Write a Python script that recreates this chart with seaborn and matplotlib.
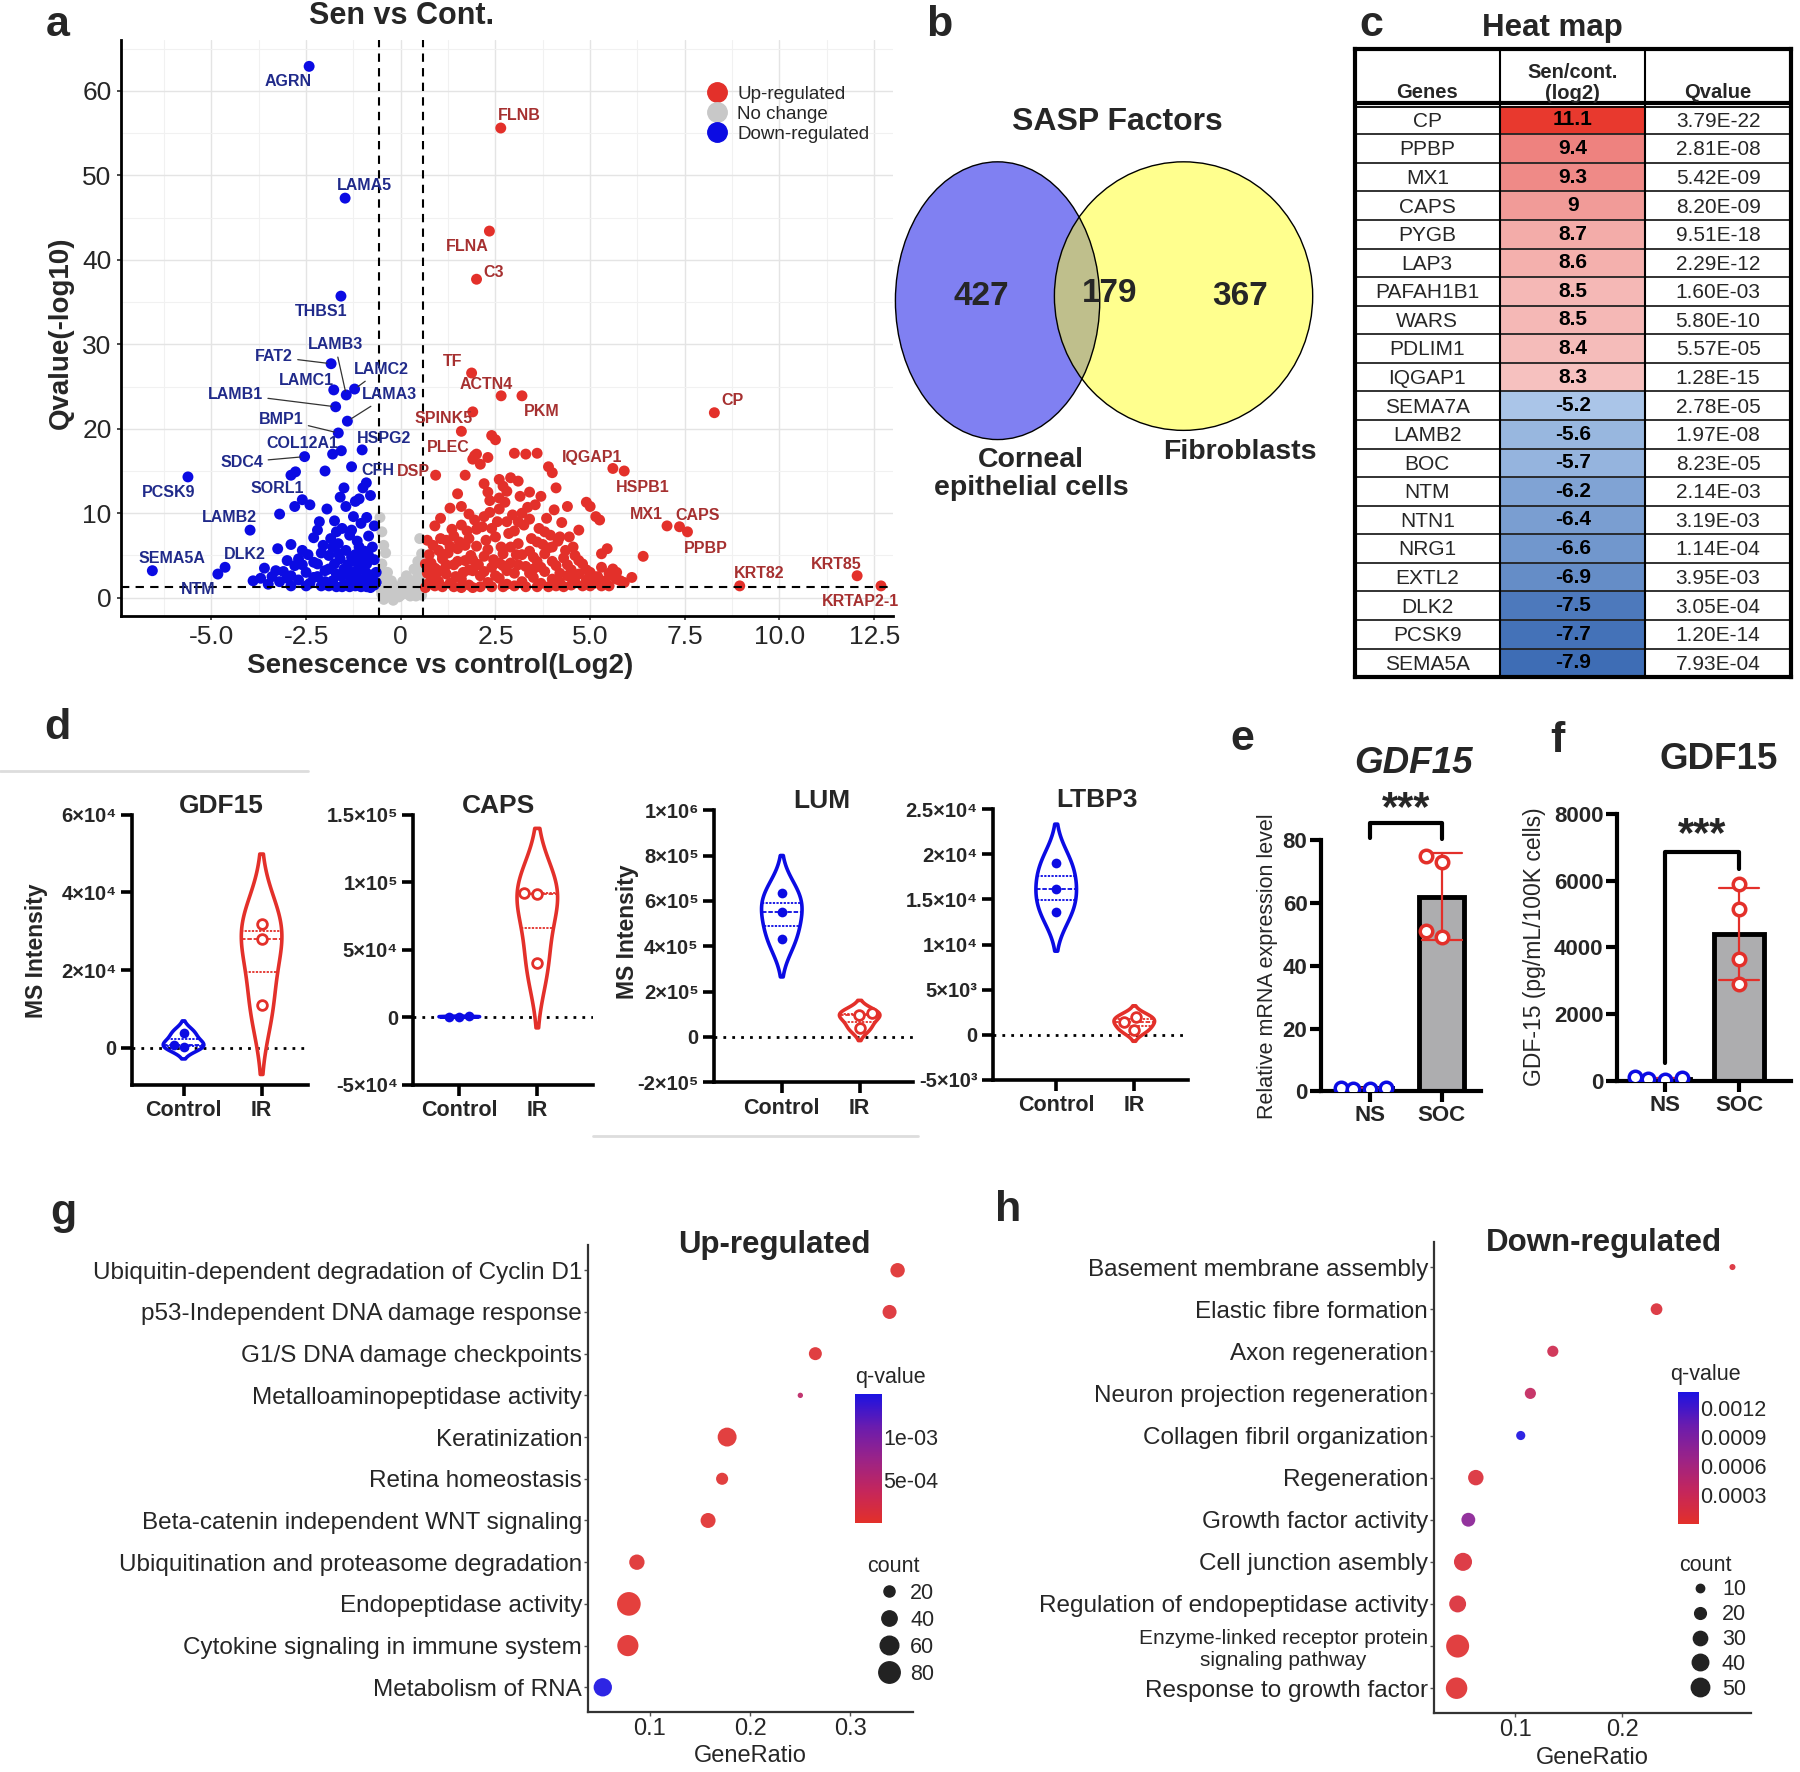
import matplotlib
matplotlib.use("Agg")
import matplotlib.pyplot as plt
import numpy as np
import pandas as pd
import seaborn as sns
from matplotlib.colors import LinearSegmentedColormap, Normalize
from matplotlib.patches import Ellipse
from matplotlib.lines import Line2D

# ---------------- data ----------------
# a: volcano (log2 fold change, -log10 q)
up_pts = [
    (0.7, 1.6), (0.8, 2.4), (0.9, 3.5), (1.0, 1.9), (1.1, 4.6), (1.2, 2.8), (1.3, 1.7), (1.4, 3.9), (1.5, 5.8), (1.6, 2.2),
    (1.7, 4.4), (1.8, 1.5), (1.9, 3.2), (2.0, 6.1), (2.1, 2.6), (2.2, 4.9), (2.3, 1.8), (2.4, 3.6), (2.5, 7.2), (2.6, 2.3),
    (2.7, 5.2), (2.8, 1.6), (2.9, 4.1), (3.0, 2.9), (3.1, 6.4), (3.2, 1.9), (3.3, 3.7), (3.4, 5.5), (3.5, 2.4), (3.6, 4.3),
    (3.7, 1.7), (3.8, 3.1), (3.9, 5.9), (4.0, 2.2), (4.1, 3.8), (4.2, 1.8), (4.3, 4.7), (4.4, 2.6), (4.5, 3.3), (4.6, 1.9),
    (4.7, 2.8), (4.8, 4.0), (4.9, 2.1), (5.0, 3.0), (5.1, 1.7), (5.2, 2.5), (5.3, 3.6), (5.4, 2.0), (5.5, 2.9), (5.6, 3.4),
    (5.7, 2.2), (5.9, 1.8), (6.1, 2.4), (6.4, 4.9), (0.75, 5.1), (0.85, 6.2), (0.95, 2.9), (1.05, 7.0), (1.15, 3.3), (1.25, 5.3),
    (1.35, 8.1), (1.45, 2.5), (1.55, 6.6), (1.65, 3.0), (1.75, 7.9), (1.85, 5.0), (1.95, 9.2), (2.05, 3.9), (2.15, 8.4), (2.25, 6.8),
    (2.35, 10.1), (2.45, 4.5), (2.55, 9.0), (2.65, 6.0), (2.75, 11.3), (2.85, 7.6), (2.95, 9.8), (3.05, 5.1), (3.15, 12.0), (3.25, 8.6),
    (3.35, 10.7), (3.45, 7.0), (3.55, 11.0), (3.65, 8.2), (3.75, 6.3), (3.85, 9.4), (3.95, 7.4), (4.05, 10.4), (4.15, 6.7), (4.25, 8.9),
    (4.35, 5.6), (4.45, 7.2), (4.55, 6.0), (4.7, 8.0), (4.9, 11.3), (5.0, 10.8), (5.15, 9.6), (5.25, 9.2), (5.45, 5.8), (5.6, 2.6),
    (1.5, 12.3), (1.7, 14.5), (1.9, 16.4), (2.0, 17.0), (2.1, 15.8), (2.2, 13.5), (2.3, 16.6), (2.4, 19.2), (2.5, 18.7), (2.6, 14.0),
    (2.7, 13.2), (2.8, 12.6), (2.9, 14.2), (3.0, 17.1), (3.1, 13.8), (3.3, 17.0), (3.6, 17.1), (3.9, 15.5), (4.0, 14.8), (4.1, 13.0),
    (3.4, 12.5), (3.7, 12.0), (2.35, 11.5), (1.8, 9.9), (1.3, 10.6), (1.05, 9.4), (0.9, 8.5), (1.9, 22.0), (0.65, 4.0), (0.7, 6.8),
    (0.65, 1.2), (0.7, 2.9), (0.8, 4.1), (0.9, 1.4), (1.0, 5.6), (1.1, 1.3), (1.2, 3.9), (1.3, 6.1), (1.4, 1.3), (1.5, 4.3),
    (1.6, 1.2), (1.7, 6.2), (1.8, 3.3), (1.9, 1.2), (2.0, 4.0), (2.1, 1.3), (2.2, 3.1), (2.3, 5.7), (2.4, 1.3), (2.5, 2.6),
    (2.6, 4.1), (2.7, 1.3), (2.8, 3.2), (2.9, 6.0), (3.0, 1.4), (3.1, 3.9), (3.2, 5.1), (3.3, 1.3), (3.4, 2.9), (3.5, 4.8),
    (3.6, 1.3), (3.7, 3.6), (3.8, 5.2), (3.9, 1.3), (4.0, 4.3), (4.1, 1.4), (4.2, 2.9), (4.3, 1.3), (4.4, 3.9), (4.5, 1.5),
    (4.6, 2.6), (4.7, 4.4), (4.8, 1.4), (4.9, 3.3), (5.0, 1.4), (5.1, 2.5), (5.3, 1.4), (5.5, 1.4), (5.7, 3.0), (5.8, 2.0),
    (1.0, 3.2), (1.2, 6.8), (1.4, 7.3), (1.6, 8.6), (1.8, 7.0), (2.0, 8.1), (2.2, 9.6), (2.4, 8.2), (2.6, 10.5), (2.8, 9.0),
    (3.0, 7.9), (3.2, 10.0), (3.4, 9.3), (3.6, 6.6), (3.8, 7.8), (4.0, 6.0), (4.2, 7.2), (1.1, 5.0), (1.9, 4.5), (2.7, 3.8),
    (3.5, 3.4), (4.6, 5.0), (0.75, 3.7), (0.85, 1.9), (2.3, 12.5), (2.6, 11.8), (1.6, 10.8), (3.1, 9.0), (4.4, 10.8), (5.3, 5.2),
]
down_pts = [
    (-0.7, 1.5), (-0.8, 2.7), (-0.9, 4.0), (-1.0, 1.8), (-1.1, 3.3), (-1.2, 5.1), (-1.3, 2.2), (-1.4, 3.9), (-1.5, 1.6), (-1.6, 4.6),
    (-1.7, 2.8), (-1.8, 6.0), (-1.9, 3.4), (-2.0, 1.9), (-2.1, 5.3), (-2.2, 2.5), (-2.3, 4.2), (-2.4, 1.7), (-2.5, 3.0), (-2.6, 5.6),
    (-2.7, 2.1), (-2.8, 3.8), (-2.9, 2.6), (-3.0, 4.4), (-3.1, 3.1), (-3.2, 1.9), (-3.4, 2.5), (-3.6, 3.5), (-3.7, 2.3), (-3.9, 2.0),
    (-0.65, 3.0), (-0.75, 6.0), (-0.85, 7.3), (-0.95, 5.5), (-1.05, 8.8), (-1.15, 6.7), (-1.25, 9.6), (-1.35, 7.4), (-1.45, 10.8), (-1.55, 8.2),
    (-1.65, 6.4), (-1.75, 9.1), (-1.85, 7.0), (-1.95, 10.5), (-2.05, 6.2), (-2.15, 9.0), (-2.3, 7.1), (-2.45, 5.1), (-2.6, 11.6), (-2.8, 10.8),
    (-2.9, 6.3), (-3.2, 9.9), (-3.25, 5.8), (-2.4, 11.0), (-1.1, 11.7), (-1.0, 13.0), (-1.5, 13.0), (-1.3, 15.5), (-2.0, 15.0), (-2.9, 14.5),
    (-1.8, 17.0), (-0.8, 12.1), (-0.7, 8.5), (-1.2, 11.4), (-1.6, 11.9), (-3.5, 1.6), (-0.9, 1.3), (-1.9, 1.4),
    (-0.65, 1.8), (-0.7, 4.5), (-0.8, 1.2), (-0.85, 5.0), (-0.9, 2.5), (-1.0, 4.7), (-1.05, 1.3), (-1.1, 2.2), (-1.15, 4.1), (-1.2, 1.4),
    (-1.25, 3.0), (-1.3, 4.8), (-1.35, 1.3), (-1.4, 2.7), (-1.45, 5.6), (-1.5, 3.4), (-1.55, 1.3), (-1.6, 2.6), (-1.65, 5.2), (-1.7, 1.3),
    (-1.75, 4.0), (-1.8, 2.0), (-1.9, 5.0), (-2.0, 3.2), (-2.1, 1.4), (-2.2, 4.0), (-2.3, 2.4), (-2.5, 1.4), (-2.6, 3.9), (-2.7, 4.6),
    (-2.9, 1.4), (-3.0, 2.3), (-3.3, 3.2), (-0.75, 2.2), (-0.95, 3.2), (-1.1, 6.0), (-1.3, 8.0), (-0.9, 9.5), (-1.7, 7.8), (-2.2, 8.0),
]
nochange_pts = [
    (-0.5, 0.4), (-0.4, 1.0), (-0.3, 0.6), (-0.2, 1.5), (-0.1, 0.3), (0.0, 0.8), (0.1, 0.5), (0.2, 1.2), (0.3, 0.4), (0.4, 0.9),
    (0.5, 1.8), (-0.45, 2.2), (-0.35, 3.0), (-0.25, 2.0), (-0.15, 1.1), (0.05, 1.9), (0.15, 2.6), (0.35, 3.4), (0.45, 2.8), (0.55, 5.2),
    (0.5, 7.0), (-0.5, 4.0), (-0.4, 5.3), (-0.55, 9.5), (-0.5, 7.8), (0.25, 0.2), (-0.05, 0.1), (0.55, 0.3), (-0.3, 0.2), (0.45, 4.3),
    (-0.52, 0.9), (-0.45, -0.2), (-0.35, 1.6), (-0.2, -0.3), (0.0, 0.3), (0.1, 1.3), (0.2, 0.6), (0.3, 2.0), (0.4, 0.2), (0.5, 0.6),
    (-0.5, 2.9), (-0.45, 6.2), (0.52, 3.8), (0.5, 2.4), (0.4, 1.5),
]
up_genes = [
    ("FLNB", 2.64, 55.6), ("FLNA", 2.34, 43.4), ("C3", 2.0, 37.7), ("TF", 1.87, 26.6), ("ACTN4", 2.65, 23.9),
    ("PKM", 3.2, 23.9), ("SPINK5", 1.6, 19.7), ("PLEC", 1.95, 16.8), ("DSP", 0.92, 14.5), ("IQGAP1", 5.6, 15.3),
    ("HSPB1", 5.9, 15.0), ("CP", 8.28, 21.9), ("MX1", 7.03, 8.5), ("CAPS", 7.36, 8.4), ("PPBP", 7.57, 7.8),
    ("KRT82", 8.95, 1.4), ("KRT85", 12.05, 2.6), ("KRTAP2-1", 12.68, 1.4),
]
down_genes = [
    ("AGRN", -2.42, 62.9), ("LAMA5", -1.47, 47.3), ("THBS1", -1.58, 35.7), ("FAT2", -1.84, 27.7), ("LAMB3", -1.44, 24.0),
    ("LAMC1", -1.77, 24.6), ("LAMC2", -1.22, 24.7), ("LAMB1", -1.72, 22.6), ("LAMA3", -1.41, 20.9), ("BMP1", -1.65, 19.5),
    ("COL12A1", -1.57, 17.4), ("HSPG2", -1.02, 17.5), ("SDC4", -2.54, 16.7), ("CFH", -0.91, 13.6), ("SORL1", -2.78, 14.9),
    ("PCSK9", -5.62, 14.3), ("LAMB2", -3.98, 8.0), ("SEMA5A", -6.56, 3.2), ("DLK2", -4.64, 3.6), ("NTM", -4.83, 2.8),
]

# b: venn counts
venn_counts = [427, 179, 367]
venn_names = ["Corneal\nepithelial cells", "Fibroblasts"]

# c: heat map table
heat_genes = ["CP", "PPBP", "MX1", "CAPS", "PYGB", "LAP3", "PAFAH1B1", "WARS", "PDLIM1", "IQGAP1",
              "SEMA7A", "LAMB2", "BOC", "NTM", "NTN1", "NRG1", "EXTL2", "DLK2", "PCSK9", "SEMA5A"]
heat_log2 = [11.1, 9.4, 9.3, 9, 8.7, 8.6, 8.5, 8.5, 8.4, 8.3,
             -5.2, -5.6, -5.7, -6.2, -6.4, -6.6, -6.9, -7.5, -7.7, -7.9]
heat_q = ["3.79E-22", "2.81E-08", "5.42E-09", "8.20E-09", "9.51E-18", "2.29E-12", "1.60E-03", "5.80E-10", "5.57E-05", "1.28E-15",
          "2.78E-05", "1.97E-08", "8.23E-05", "2.14E-03", "3.19E-03", "1.14E-04", "3.95E-03", "3.05E-04", "1.20E-14", "7.93E-04"]

# d: MS intensity (Control, IR)
gdf15_ctrl, gdf15_ir = [3800, 800, 200], [32000, 28000, 11000]
caps_ctrl, caps_ir = [100, 300, 500], [92000, 91500, 40000]
lum_ctrl, lum_ir = [635000, 550000, 430000], [105000, 95000, 40000]
ltbp3_ctrl, ltbp3_ir = [19000, 16200, 13600], [2000, 1400, 500]

# e, f: GDF15
mrna_ns, mrna_soc = [0.8, 1.0, 1.1, 0.9], [73, 75, 49, 51]
elisa_ns, elisa_soc = [60, 110, 30, 80], [5900, 5150, 3650, 2900]

# g, h: enrichment
up_terms = ["Ubiquitin-dependent degradation of Cyclin D1", "p53-Independent DNA damage response",
            "G1/S DNA damage checkpoints", "Metalloaminopeptidase activity", "Keratinization",
            "Retina homeostasis", "Beta-catenin independent WNT signaling",
            "Ubiquitination and proteasome degradation", "Endopeptidase activity",
            "Cytokine signaling in immune system", "Metabolism of RNA"]
up_ratio = [0.347, 0.339, 0.265, 0.250, 0.177, 0.172, 0.158, 0.087, 0.079, 0.078, 0.053]
up_count = [35, 33, 28, 3, 62, 24, 38, 40, 98, 78, 58]
up_q = [5e-5, 8e-5, 6e-5, 4.5e-4, 4e-5, 5e-5, 4e-5, 5e-5, 2e-5, 3e-5, 1.5e-3]

down_terms = ["Basement membrane assembly", "Elastic fibre formation", "Axon regeneration",
              "Neuron projection regeneration", "Collagen fibril organization", "Regeneration",
              "Growth factor activity", "Cell junction asembly", "Regulation of endopeptidase activity",
              "Enzyme-linked receptor protein\nsignaling pathway", "Response to growth factor"]
down_ratio = [0.303, 0.232, 0.135, 0.114, 0.105, 0.063, 0.056, 0.051, 0.046, 0.046, 0.045]
down_count = [5, 20, 18, 18, 12, 35, 28, 48, 42, 78, 68]
down_q = [1e-4, 1e-4, 2.5e-4, 3.5e-4, 1.36e-3, 1e-4, 8e-4, 1e-4, 1e-4, 5e-5, 5e-5]

# ---------------- style ----------------
sns.set_theme(style="white")
plt.rcParams["font.family"] = ["Liberation Sans", "DejaVu Sans"]
NARROW = ["Liberation Sans Narrow", "Liberation Sans", "DejaVu Sans"]
RED, BLUE, GREY = "#E3302A", "#0B0BE3", "#C8C8C8"
q_cmap = LinearSegmentedColormap.from_list("q", ["#E3302A", "#C4265C", "#9A2388", "#6A1CAE", "#1C12E2"])

W, H = 1568, 1544  # layout grid of the reference thumbnail


def box(x0, y0, x1, y1):
    return [x0 / W, 1 - y1 / H, (x1 - x0) / W, (y1 - y0) / H]


def fxy(x, y):
    return x / W, 1 - y / H


fig = plt.figure(figsize=(18, 17.72), dpi=100)
fig.patch.set_facecolor("white")

for letter, (x, y) in {"a": (50, 22), "b": (818, 22), "c": (1195, 22), "d": (50, 634),
                       "e": (1082, 644), "f": (1357, 646), "g": (55, 1057), "h": (878, 1054)}.items():
    fig.text(*fxy(x, y), letter, fontsize=31, weight="bold", ha="center", va="center")

# ---------------- a: volcano ----------------
axa = fig.add_axes(box(105, 35, 778, 537))
rows = []
for grp, pts in (("No change", nochange_pts), ("Down-regulated", down_pts), ("Up-regulated", up_pts)):
    rows += [(grp, x, y) for x, y in pts]
rows += [("Up-regulated", x, y) for _, x, y in up_genes]
rows += [("Down-regulated", x, y) for _, x, y in down_genes]
volc = pd.DataFrame(rows, columns=["group", "log2fc", "qlog"])
sns.scatterplot(data=volc, x="log2fc", y="qlog", hue="group",
                palette={"Up-regulated": RED, "No change": GREY, "Down-regulated": BLUE},
                s=62, linewidth=0, legend=False, ax=axa, zorder=3)

lab_off = {
    "AGRN": (-15, -11), "LAMA5": (14, 9), "THBS1": (-14, -11), "FAT2": (-41, 5), "LAMB3": (-8, 36),
    "LAMC1": (-20, 7), "LAMC2": (19, 14), "LAMB1": (-72, 9), "LAMA3": (30, 19), "BMP1": (-41, 10),
    "COL12A1": (-28, 5), "HSPG2": (16, 8), "SDC4": (-45, -4), "CFH": (8, 9), "SORL1": (-13, -12),
    "PCSK9": (-14, -11), "LAMB2": (-15, 9), "SEMA5A": (14, 9), "DLK2": (14, 9), "NTM": (-14, -11),
    "FLNB": (13, 9), "FLNA": (-16, -11), "C3": (12, 5), "TF": (-14, 8), "ACTN4": (-11, 8),
    "PKM": (14, -11), "SPINK5": (-13, 9), "PLEC": (-19, 6), "DSP": (-16, 3), "IQGAP1": (-15, 8),
    "HSPB1": (13, -12), "CP": (13, 9), "MX1": (-15, 8), "CAPS": (13, 8), "PPBP": (13, -12),
    "KRT82": (14, 9), "KRT85": (-15, 8), "KRTAP2-1": (-15, -11),
}
leaders = {"FAT2", "LAMB3", "LAMC2", "LAMB1", "LAMA3", "BMP1", "SDC4"}
for genes, col in ((up_genes, "#A63030"), (down_genes, "#202A8A")):
    for name, x, y in genes:
        arrow = dict(arrowstyle="-", color="#333333", lw=0.9, shrinkA=1, shrinkB=3) if name in leaders else None
        axa.annotate(name, (x, y), xytext=lab_off[name], textcoords="offset points", ha="center", va="center",
                     fontsize=11.5, weight="bold", color=col, arrowprops=arrow, zorder=5)

for xv in (-0.585, 0.585):
    axa.axvline(xv, ls=(0, (4, 3)), color="black", lw=1.5, zorder=4)
axa.axhline(1.3, ls=(0, (4, 3)), color="black", lw=1.5, zorder=4)
axa.set_xlim(-7.4, 13.0)
axa.set_ylim(-2.2, 66)
axa.set_xticks([-5, -2.5, 0, 2.5, 5, 7.5, 10, 12.5])
axa.set_xticklabels(["-5.0", "-2.5", "0", "2.5", "5.0", "7.5", "10.0", "12.5"])
axa.set_yticks([0, 10, 20, 30, 40, 50, 60])
axa.set_xticks(np.arange(-6.25, 13, 2.5), minor=True)
axa.set_yticks(np.arange(5, 66, 10), minor=True)
axa.grid(True, which="major", color="#E4E4E4", lw=1)
axa.grid(True, which="minor", color="#F1F1F1", lw=0.8)
axa.set_axisbelow(True)
axa.tick_params(labelsize=19, length=3, color="#333333", left=True, bottom=True)
for s in ("top", "right"):
    axa.spines[s].set_visible(False)
for s in ("left", "bottom"):
    axa.spines[s].set_color("black")
    axa.spines[s].set_linewidth(2)
axa.set_xlabel("")
axa.set_ylabel("")
fig.text(*fxy(383, 580), "Senescence vs control(Log2)", fontsize=20, weight="bold", ha="center", va="center")
fig.text(*fxy(53, 290), "Qvalue(-log10)", fontsize=20, weight="bold", ha="center", va="center", rotation=90)
fig.text(*fxy(350, 14), "Sen vs Cont.", fontsize=22, weight="bold", ha="center", va="center")
handles = [Line2D([], [], marker="o", ls="", color=c, markersize=14) for c in (RED, GREY, BLUE)]
axa.legend(handles, ["Up-regulated", "No change", "Down-regulated"], loc="upper left",
           bbox_to_anchor=fxy(602, 68), bbox_transform=fig.transFigure, frameon=False,
           fontsize=13.5, handletextpad=0.05, labelspacing=0.15, borderaxespad=0)

# ---------------- b: venn ----------------
axb = fig.add_axes(box(760, 130, 1170, 450))
axb.set_xlim(760, 1170)
axb.set_ylim(450, 130)
axb.axis("off")
left_e = Ellipse((869, 262), 178, 242, fc="#8080F2", ec="none")
right_e = Ellipse((1031, 258), 225, 234, fc="#FFFF8E", ec="none")
axb.add_patch(left_e)
axb.add_patch(right_e)
inter = Ellipse((869, 262), 178, 242, fc="#BFBF8C", ec="none")
axb.add_patch(inter)
inter.set_clip_path(right_e)
for e in (Ellipse((869, 262), 178, 242), Ellipse((1031, 258), 225, 234)):
    e.set_fill(False)
    e.set_edgecolor("black")
    e.set_linewidth(1)
    axb.add_patch(e)
for (x, y), n in zip([(855, 258), (967, 256), (1080, 258)], venn_counts):
    axb.text(x, y, str(n), fontsize=24, weight="bold", ha="center", va="center")
fig.text(*fxy(973, 106), "SASP Factors", fontsize=23, weight="bold", ha="center", va="center")
fig.text(*fxy(898, 413), venn_names[0], fontsize=20.5, weight="bold", ha="center", va="center", linespacing=1.1)
fig.text(*fxy(1080, 394), venn_names[1], fontsize=20.5, weight="bold", ha="center", va="center")

# ---------------- c: heat map table ----------------
axc = fig.add_axes(box(1180, 43, 1560, 590))
nrow = len(heat_genes)
mat = np.full((nrow, 3), np.nan)
mat[:, 1] = heat_log2
annot = np.full((nrow, 3), "", dtype=object)
annot[:, 1] = [f"{v:g}" for v in heat_log2]
lo, hi = min(heat_log2), max(heat_log2)
pos = lambda v: (v - lo) / (hi - lo)
heat_cmap = LinearSegmentedColormap.from_list("heat", [
    (0, "#3E6DB5"), (pos(-5.2), "#ABC6E8"), (pos(0), "#FFFFFF"),
    (pos(8.3), "#F6C3C1"), (pos(9.4), "#EE8582"), (1, "#E8392E")])
sns.heatmap(mat, ax=axc, cmap=heat_cmap, vmin=lo, vmax=hi, annot=annot, fmt="", cbar=False,
            xticklabels=False, yticklabels=False, annot_kws=dict(weight="bold", size=15, color="black"))
axc.set_ylim(nrow, -1.97)
axc.set_xlim(0, 3)
for i in range(nrow):
    axc.text(0.5, i + 0.55, heat_genes[i], ha="center", va="center", fontsize=15)
    axc.text(2.5, i + 0.55, heat_q[i], ha="center", va="center", fontsize=15)
axc.text(0.5, -0.12, "Genes", ha="center", va="bottom", fontsize=14.5, weight="bold")
axc.text(1.5, -0.1, "Sen/cont.\n(log2)", ha="center", va="bottom", fontsize=14.5, weight="bold", linespacing=1.1)
axc.text(2.5, -0.12, "Qvalue", ha="center", va="bottom", fontsize=14.5, weight="bold")
for i in range(1, nrow):
    axc.axhline(i, color="#222222", lw=1.3)
axc.axhline(-0.1, color="black", lw=3)
axc.axhline(0.05, color="black", lw=1.3)
for xv in (1, 2):
    axc.axvline(xv, color="black", lw=1.5)
for s in axc.spines.values():
    s.set_visible(True)
    s.set_color("black")
    s.set_linewidth(3)
fig.text(*fxy(1352, 24), "Heat map", fontsize=22.5, weight="bold", ha="center", va="center")

# ---------------- d: violins ----------------
fig.add_artist(Line2D([0, 268 / W], [1 - 672 / H] * 2, color="#DDDDDD", lw=2))
fig.add_artist(Line2D([517 / W, 800 / W], [1 - 990 / H] * 2, color="#DDDDDD", lw=2))


def violin_panel(rect, ctrl, ir, title, ylim, xlim, ticks, tlabels, title_xy):
    ax = fig.add_axes(box(*rect))
    df = pd.DataFrame({"group": ["Control"] * len(ctrl) + ["IR"] * len(ir), "value": ctrl + ir})
    order = ["Control", "IR"]
    ax.axhline(0, ls=(0, (1, 2.2)), color="black", lw=2, zorder=0)
    sns.violinplot(data=df, x="group", y="value", hue="group", order=order, hue_order=order,
                   palette={"Control": BLUE, "IR": RED}, fill=False, inner="quart",
                   inner_kws=dict(linewidth=1.3), linewidth=2.6, width=0.52, density_norm="width",
                   legend=False, ax=ax)
    sns.swarmplot(data=df[df.group == "Control"], x="group", y="value", order=order,
                  color=BLUE, size=7, ax=ax, zorder=4)
    sns.swarmplot(data=df[df.group == "IR"], x="group", y="value", order=order,
                  color="white", edgecolor=RED, linewidth=2, size=7, ax=ax, zorder=4)
    ax.set_xlim(*xlim)
    ax.set_ylim(*ylim)
    ax.set_yticks(ticks)
    ax.set_yticklabels(tlabels, fontweight="bold", fontsize=14.5)
    ax.set_xticks([0, 1])
    ax.set_xticklabels(order, fontweight="bold", fontsize=15.5)
    ax.set_xlabel("")
    ax.set_ylabel("")
    for s in ("top", "right"):
        ax.spines[s].set_visible(False)
    for s in ("left", "bottom"):
        ax.spines[s].set_color("black")
        ax.spines[s].set_linewidth(2.6)
    ax.tick_params(axis="both", length=8, width=2.6, color="black", left=True, bottom=True, pad=3)
    fig.text(*fxy(*title_xy), title, fontsize=19, weight="bold", ha="center", va="center")
    return ax


violin_panel((115, 710, 268, 945), gdf15_ctrl, gdf15_ir, "GDF15", (-9.5e3, 6e4), (-0.66, 1.59),
             [0, 2e4, 4e4, 6e4], ["0", "2×10⁴", "4×10⁴", "6×10⁴"], (193, 702))
violin_panel((360, 710, 517, 945), caps_ctrl, caps_ir, "CAPS", (-5e4, 1.5e5), (-0.59, 1.72),
             [-5e4, 0, 5e4, 1e5, 1.5e5], ["-5×10⁴", "0", "5×10⁴", "1×10⁵", "1.5×10⁵"], (434, 702))
violin_panel((622, 706, 795, 943), lum_ctrl, lum_ir, "LUM", (-2e5, 1e6), (-0.87, 1.68),
             [-2e5, 0, 2e5, 4e5, 6e5, 8e5, 1e6],
             ["-2×10⁵", "0", "2×10⁵", "4×10⁵", "6×10⁵", "8×10⁵", "1×10⁶"], (716, 698))
violin_panel((865, 705, 1035, 941), ltbp3_ctrl, ltbp3_ir, "LTBP3", (-5e3, 2.5e4), (-0.81, 1.69),
             [-5e3, 0, 5e3, 1e4, 1.5e4, 2e4, 2.5e4],
             ["-5×10³", "0", "5×10³", "1×10⁴", "1.5×10⁴", "2×10⁴", "2.5×10⁴"], (956, 697))
fig.text(*fxy(32, 828), "MS Intensity", fontsize=16.5, weight="bold", ha="center", va="center", rotation=90)
fig.text(*fxy(547, 812), "MS Intensity", fontsize=16.5, weight="bold", ha="center", va="center", rotation=90)


# ---------------- e, f: bars ----------------
def bar_panel(rect, ns, soc, ylim, xlim, ticks, ylabel, ylabel_xy, ylabel_size, bracket, star_y, width):
    ax = fig.add_axes(box(*rect))
    df = pd.DataFrame({"group": ["NS"] * len(ns) + ["SOC"] * len(soc), "value": ns + soc})
    order = ["NS", "SOC"]
    sns.barplot(data=df, x="group", y="value", order=order, errorbar="sd", capsize=0.55,
                err_kws={"color": RED, "linewidth": 1.6}, color="#ADADAF", saturation=1,
                edgecolor="black", linewidth=3.5, width=width, ax=ax)
    sns.swarmplot(data=df[df.group == "NS"], x="group", y="value", order=order, color="white",
                  edgecolor=BLUE, linewidth=2.5, size=9, ax=ax, zorder=5)
    sns.swarmplot(data=df[df.group == "SOC"], x="group", y="value", order=order, color="white",
                  edgecolor=RED, linewidth=2.5, size=9, ax=ax, zorder=5)
    ax.plot([0, 0, 1, 1], bracket, color="black", lw=3, clip_on=False)
    ax.text(0.5, star_y, "***", ha="center", va="center", fontsize=30, weight="bold")
    ax.set_xlim(*xlim)
    ax.set_ylim(*ylim)
    ax.set_yticks(ticks)
    ax.set_yticklabels([str(t) for t in ticks], fontweight="bold", fontsize=16)
    ax.set_xticks([0, 1])
    ax.set_xticklabels(order, fontweight="bold", fontsize=16)
    ax.set_xlabel("")
    ax.set_ylabel("")
    for s in ("top", "right"):
        ax.spines[s].set_visible(False)
    for s in ("left", "bottom"):
        ax.spines[s].set_color("black")
        ax.spines[s].set_linewidth(3)
    ax.tick_params(axis="both", length=8, width=3, color="black", left=True, bottom=True, pad=2)
    fig.text(*fxy(*ylabel_xy), ylabel, fontsize=ylabel_size, ha="center", va="center", rotation=90)
    return ax


bar_panel((1151, 732, 1290, 951), mrna_ns, mrna_soc, (0, 80), (-0.67, 1.54), [0, 20, 40, 60, 80],
          "Relative mRNA expression level", (1104, 842), 15.5, [80.7, 85.5, 85.5, 80.5], 90, 0.62)
bar_panel((1409, 709, 1560, 942), elisa_ns, elisa_soc, (0, 8000), (-0.64, 1.7), [0, 2000, 4000, 6000, 8000],
          "GDF-15 (pg/mL/100K cells)", (1337, 825), 16.5, [550, 6840, 6840, 6360], 7350, 0.67)
fig.text(*fxy(1231, 665), "GDF15", fontsize=26.5, weight="bold", style="italic", ha="center", va="center")
fig.text(*fxy(1497, 662), "GDF15", fontsize=26.5, weight="bold", ha="center", va="center")


# ---------------- g, h: dot plots ----------------
def dot_panel(rect, terms, ratio, count, q, qmax, snorm, sizes, xticks, xlim, title, title_xy,
              cbar_rect, cticks, clabels, qtitle_xy, leg_xy, leg_counts, leg_space):
    ax = fig.add_axes(box(*rect))
    df = pd.DataFrame({"term": terms, "ratio": ratio, "count": count, "q": q})
    sns.scatterplot(data=df, x="ratio", y="term", hue="q", palette=q_cmap, hue_norm=(0, qmax),
                    size="count", sizes=sizes, size_norm=snorm, linewidth=0, alpha=0.92,
                    legend=False, ax=ax)
    n = len(terms)
    ax.set_yticks(range(n))
    ax.set_yticklabels(terms, fontsize=17.5, family=NARROW)
    for t in ax.get_yticklabels():
        if "\n" in t.get_text():
            t.set_fontsize(15)
            t.set_multialignment("center")
    ax.set_ylim(n - 0.4, -0.6)
    ax.set_xlim(*xlim)
    ax.set_xticks(xticks)
    ax.set_xticklabels([f"{v:.1f}" for v in xticks], fontsize=17, family=NARROW)
    ax.set_xlabel("GeneRatio", fontsize=17, family=NARROW)
    ax.set_ylabel("")
    for s in ("top", "right"):
        ax.spines[s].set_visible(False)
    for s in ("left", "bottom"):
        ax.spines[s].set_color("#333333")
        ax.spines[s].set_linewidth(1.6)
    ax.tick_params(axis="both", length=3, width=1, color="#555555", left=True, bottom=True, pad=1)
    fig.text(*fxy(*title_xy), title, fontsize=22.5, weight="bold", ha="center", va="center", family=NARROW)

    cax = fig.add_axes(box(*cbar_rect))
    sm = plt.cm.ScalarMappable(norm=Normalize(0, qmax), cmap=q_cmap)
    cb = fig.colorbar(sm, cax=cax)
    cb.outline.set_visible(False)
    cb.set_ticks(cticks)
    cb.set_ticklabels(clabels)
    cax.tick_params(direction="in", color="white", length=5, width=1.5, labelsize=15.5, pad=1)
    for t in cax.get_yticklabels():
        t.set_family(NARROW)
    fig.text(*fxy(*qtitle_xy), "q-value", fontsize=15.5, ha="left", va="center", family=NARROW)

    lo_c, hi_c = snorm
    handles = [Line2D([], [], marker="o", ls="", color="#222222",
                      markersize=np.sqrt(sizes[0] + (c - lo_c) / (hi_c - lo_c) * (sizes[1] - sizes[0])))
               for c in leg_counts]
    ax.legend(handles, [str(c) for c in leg_counts], title="count", loc="upper left",
              bbox_to_anchor=fxy(*leg_xy), bbox_transform=fig.transFigure, frameon=False,
              handletextpad=0.0, labelspacing=leg_space, borderaxespad=0, alignment="left",
              prop={"family": NARROW, "size": 15.5}, title_fontproperties={"family": NARROW, "size": 15.5})
    return ax


dot_panel((512, 1085, 795, 1492), up_terms, up_ratio, up_count, up_q, 1.5e-3, (3, 98), (15, 290),
          [0.1, 0.2, 0.3], (0.038, 0.362), "Up-regulated", (675, 1085),
          (745, 1215, 768, 1327), [5e-4, 1e-3], ["5e-04", "1e-03"], (745, 1200), (748, 1348),
          [20, 40, 60, 80], 0.28)
dot_panel((1249, 1082, 1525, 1493), down_terms, down_ratio, down_count, down_q, 1.37e-3, (3, 80), (12, 281),
          [0.1, 0.2], (0.0237, 0.32), "Down-regulated", (1397, 1083),
          (1462, 1213, 1480, 1328), [3e-4, 6e-4, 9e-4, 1.2e-3], ["0.0003", "0.0006", "0.0009", "0.0012"],
          (1455, 1198), (1455, 1347), [10, 20, 30, 40, 50], 0.18)

fig.savefig("out.png", dpi=100, facecolor="white")
